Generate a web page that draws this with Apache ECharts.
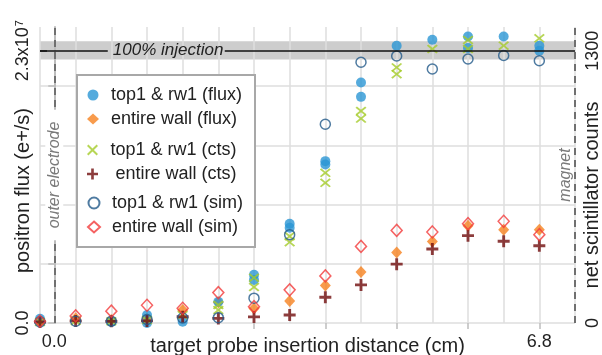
<!DOCTYPE html>
<html>
<head>
<meta charset="utf-8">
<script src="https://cdn.jsdelivr.net/npm/echarts@6/dist/echarts.min.js"></script>
<style>
  html, body { margin: 0; padding: 0; background: #fff; }
  #chart { width: 602px; height: 355px; }
</style>
</head>
<body>
<div id="chart"></div>
<script>
// Probe insertion positions (cm)
const positionsCm = [-0.2, 0.3, 0.8, 1.3, 1.8, 2.3, 2.8, 3.3, 3.8, 4.3, 4.8, 5.3, 5.8, 6.3, 6.8];

// Measured positron flux (e+/s); some positions were measured twice
const top1FluxRunA = [0.35e6, -0.15e6, 0.1e6, 0.68e6, 0.11e6, 1.8e6, 4.07e6, 8.39e6, 13.67e6, 20.32e6, 23.42e6, 23.93e6, 24.2e6, 24.2e6, 23.42e6];
const top1FluxRunB = [null, null, null, 0.0, null, null, 3.64e6, 8.05e6, 13.39e6, 19.1e6, null, null, 23.23e6, null, 23.0e6];
const wallFlux = [0.1e6, 0.4e6, 0.25e6, 0.35e6, 1.1e6, 1.75e6, 1.23e6, 1.86e6, 3.16e6, 4.3e6, 5.96e6, 6.89e6, 8.22e6, 7.88e6, 7.88e6];

// Net scintillator counts
const top1CtsRunA = [5, 10, 8, 14, 38, 86, 216, 414, 717, 1012, 1220, 1308, 1351, 1324, 1359];
const top1CtsRunB = [null, null, null, null, null, 62, 172, 386, 669, 976, 1188, null, 1308, null, null];
const wallCts = [5, 10, 8, 10, 30, 22, 29, 38, 123, 182, 281, 353, 417, 390, 369];

// Simulated positron flux (e+/s)
const top1Sim = [0.1e6, 0.15e6, 0.15e6, 0.3e6, 0.42e6, 0.45e6, 2.1e6, 7.46e6, 16.79e6, 22.02e6, 22.55e6, 21.45e6, 22.3e6, 22.59e6, 22.15e6];
const wallSim = [0.15e6, 0.6e6, 1.0e6, 1.5e6, 1.24e6, 2.57e6, 1.38e6, 2.8e6, 3.98e6, 6.47e6, 7.82e6, 7.69e6, 8.39e6, 8.59e6, 7.46e6];

// Reference levels and axis ranges
const injectionFlux = 2.3e7;
const injectionCounts = 1300;
const injectionBand = [2.225e7, 2.38e7];
const fluxAxisMax = 2.5e7;
const fluxGridStep = 2.5e6;
const countsAxisMax = injectionCounts * fluxAxisMax / injectionFlux;
const xRange = [-0.2, 7.3];
const outerElectrodeCm = 0.0;
const magnetCm = 7.3;
const xTickValues = [2.8, 3.8, 4.8, 5.8, 6.8];
const xLabelValues = [0.0, 6.8];
const fluxTickValues = [0, 5e6, 1e7, 1.5e7, 2e7];

const names = {
  top1Flux: 'top1 & rw1 (flux)',
  wallFlux: 'entire wall (flux)',
  top1Cts: 'top1 & rw1 (cts)',
  wallCts: 'entire wall (cts)',
  top1Sim: 'top1 & rw1 (sim)',
  wallSim: 'entire wall (sim)'
};

function pairs(values) {
  return positionsCm.map((x, i) => [x, values[i]]).filter(p => p[1] !== null);
}

const crossSymbol = 'path://M0,1.3L1.3,0L5,3.7L8.7,0L10,1.3L6.3,5L10,8.7L8.7,10L5,6.3L1.3,10L0,8.7L3.7,5Z';
const plusSymbol = 'path://M3.8,0H6.2V3.8H10V6.2H6.2V10H3.8V6.2H0V3.8H3.8Z';

const textColor = '#222';
const gridColor = '#dedede';
const axisGray = '#bdbdbd';

const legendBase = {
  orient: 'vertical',
  left: 87,
  padding: 0,
  itemWidth: 12,
  itemHeight: 11,
  itemGap: 6,
  selectedMode: false,
  z: 11,
  textStyle: { fontSize: 18, color: textColor, padding: [0, 0, 0, 7] }
};

const chart = echarts.init(document.getElementById('chart'), null, { renderer: 'canvas' });

chart.setOption({
  animation: false,
  backgroundColor: '#fff',
  textStyle: { fontFamily: '"Liberation Sans", Arial, sans-serif' },
  grid: { left: 40, right: 27, top: 27, bottom: 32, containLabel: false, outerBoundsMode: 'none' },
  xAxis: [
    {
      type: 'value',
      min: xRange[0],
      max: xRange[1],
      position: 'bottom',
      z: 2,
      name: 'target probe insertion distance (cm)',
      nameLocation: 'middle',
      nameGap: 13,
      nameMoveOverlap: false,
      nameTextStyle: { fontSize: 20, color: textColor },
      axisLine: { show: false },
      axisTick: { show: true, customValues: xTickValues, length: 6, lineStyle: { color: axisGray, width: 1.5 } },
      axisLabel: { customValues: xLabelValues, formatter: v => v.toFixed(1), fontSize: 18, color: textColor, margin: 10 },
      splitLine: { show: false }
    },
    {
      // vertical grid at every probe step
      type: 'value',
      min: 0,
      max: positionsCm.length,
      interval: 1,
      position: 'top',
      z: 2,
      axisLine: { show: false },
      axisTick: { show: false },
      axisLabel: { show: false },
      splitLine: { show: true, lineStyle: { color: gridColor, width: 1.5 } }
    }
  ],
  yAxis: [
    {
      type: 'value',
      min: 0,
      max: fluxAxisMax,
      interval: fluxGridStep,
      position: 'left',
      z: 2,
      name: 'positron flux (e+/s)',
      nameLocation: 'middle',
      nameRotate: 90,
      nameGap: 7,
      nameMoveOverlap: false,
      nameTextStyle: { fontSize: 20, color: textColor, padding: [0, 31, 0, 0] },
      axisLine: { show: true, lineStyle: { color: axisGray, width: 2 } },
      axisTick: { show: true, customValues: fluxTickValues, length: 6, lineStyle: { color: axisGray, width: 1.5 } },
      axisLabel: {
        customValues: [0, injectionFlux],
        rotate: 90,
        margin: 8,
        fontSize: 18,
        color: textColor,
        formatter: v => (v === 0 ? '0.0' : '{b|2.3x10}{s|7}'),
        rich: {
          b: { fontSize: 18, color: textColor },
          s: { fontSize: 11, color: textColor, verticalAlign: 'top', padding: [0, 0, 0, 1] }
        }
      },
      splitLine: { show: true, lineStyle: { color: gridColor, width: 1.5 } }
    },
    {
      type: 'value',
      min: 0,
      max: countsAxisMax,
      position: 'right',
      z: 2,
      name: 'net scintillator counts',
      nameLocation: 'middle',
      nameRotate: 90,
      nameGap: 7,
      nameMoveOverlap: false,
      nameTextStyle: { fontSize: 20, color: textColor, padding: [0, 40, 0, 0] },
      axisLine: { show: false },
      axisTick: { show: true, customValues: [injectionCounts], length: 7, lineStyle: { color: '#111', width: 1.5 } },
      axisLabel: { customValues: [0, injectionCounts], formatter: v => String(Math.round(v)), rotate: 90, margin: 9, fontSize: 18, color: textColor },
      splitLine: { show: false }
    }
  ],
  legend: [
    Object.assign({}, legendBase, { top: 86, data: [names.top1Flux, names.wallFlux] }),
    Object.assign({}, legendBase, {
      top: 141,
      data: [names.top1Cts, names.wallCts],
      formatter: n => (n === names.wallCts ? ' ' + n : n)
    }),
    Object.assign({}, legendBase, { top: 194, data: [names.top1Sim, names.wallSim] })
  ],
  graphic: [
    {
      type: 'rect',
      z: 10,
      shape: { x: 77, y: 75, width: 178, height: 172 },
      style: { fill: '#fff', stroke: '#a8a8a8', lineWidth: 2 }
    }
  ],
  series: [
    {
      // reference band, injection level and boundary markers
      type: 'scatter',
      data: [],
      z: 5,
      silent: true,
      markArea: {
        silent: true,
        itemStyle: { color: '#cdcdcd' },
        data: [[{ yAxis: injectionBand[0] }, { yAxis: injectionBand[1] }]]
      },
      markLine: {
        silent: true,
        symbol: ['none', 'none'],
        label: { show: false },
        data: [
          [
            {
              coord: [xRange[0], injectionFlux],
              lineStyle: { color: '#111', width: 1.5, type: 'solid' },
              label: { show: true, position: 'end', distance: 5, formatter: '100% injection', fontStyle: 'italic', fontSize: 17, color: textColor }
            },
            {
              coord: [0.75, injectionFlux],
              lineStyle: { color: '#111', width: 1.5, type: 'solid' },
              label: { show: true, position: 'end', distance: 5, formatter: '100% injection', fontStyle: 'italic', fontSize: 17, color: textColor }
            }
          ],
          [
            { coord: [2.39, injectionFlux], lineStyle: { color: '#111', width: 1.5, type: 'solid' }, label: { show: false } },
            { coord: [xRange[1], injectionFlux], lineStyle: { color: '#111', width: 1.5, type: 'solid' }, label: { show: false } }
          ],
          {
            xAxis: outerElectrodeCm,
            lineStyle: { color: '#707070', width: 2, type: [7, 5] },
            label: {
              show: true, position: 'middle', distance: 0, verticalAlign: 'middle', formatter: 'outer electrode',
              backgroundColor: '#fff', padding: [1, 12], fontStyle: 'italic', fontSize: 16, color: '#7a7a7a'
            }
          },
          {
            xAxis: magnetCm,
            lineStyle: { color: '#707070', width: 2, type: [7, 5] },
            label: {
              show: true, position: 'insideMiddleTop', distance: 1, formatter: 'magnet',
              fontStyle: 'italic', fontSize: 16, color: '#7a7a7a'
            }
          }
        ]
      }
    },
    {
      name: names.top1Flux,
      type: 'scatter',
      yAxisIndex: 0,
      symbol: 'circle',
      symbolSize: 10,
      z: 4,
      itemStyle: { color: '#2a96d5' },
      data: pairs(top1FluxRunA).concat(pairs(top1FluxRunB))
    },
    {
      name: names.wallFlux,
      type: 'scatter',
      yAxisIndex: 0,
      symbol: 'diamond',
      symbolSize: [11, 12],
      z: 3,
      itemStyle: { color: '#f6821f' },
      data: pairs(wallFlux)
    },
    {
      name: names.top1Cts,
      type: 'scatter',
      yAxisIndex: 1,
      symbol: crossSymbol,
      symbolSize: [11, 9],
      z: 4,
      itemStyle: { color: '#a5cc2a' },
      data: pairs(top1CtsRunA).concat(pairs(top1CtsRunB))
    },
    {
      name: names.wallCts,
      type: 'scatter',
      yAxisIndex: 1,
      symbol: plusSymbol,
      symbolSize: 12,
      z: 4,
      itemStyle: { color: '#700d0d' },
      data: pairs(wallCts)
    },
    {
      name: names.top1Sim,
      type: 'scatter',
      yAxisIndex: 0,
      symbol: 'circle',
      symbolSize: 10,
      z: 4,
      itemStyle: { color: 'rgba(255,255,255,0)', borderColor: '#235a8a', borderWidth: 1.5 },
      data: pairs(top1Sim)
    },
    {
      name: names.wallSim,
      type: 'scatter',
      yAxisIndex: 0,
      symbol: 'diamond',
      symbolSize: [11, 12],
      z: 4,
      itemStyle: { color: 'rgba(255,255,255,0)', borderColor: '#f23b3b', borderWidth: 1.5 },
      data: pairs(wallSim)
    }
  ]
});
</script>
</body>
</html>
